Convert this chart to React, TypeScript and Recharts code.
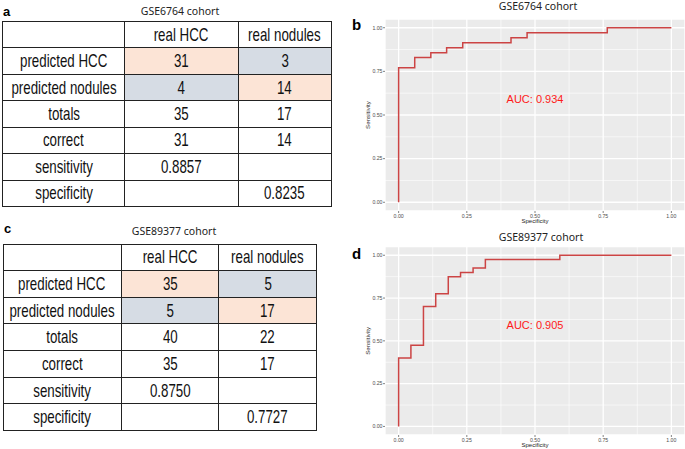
import { CartesianGrid, Line, LineChart, ReferenceDot, ReferenceLine, XAxis, YAxis } from "recharts";

// confusion tables
const colHeaders = ["real HCC", "real nodules"];
const rowLabels = ["predicted HCC", "predicted nodules", "totals", "correct", "sensitivity", "specificity"];
const tableA = [
  ["31", "3"],
  ["4", "14"],
  ["35", "17"],
  ["31", "14"],
  ["0.8857", ""],
  ["", "0.8235"],
];
const tableC = [
  ["35", "5"],
  ["5", "17"],
  ["40", "22"],
  ["35", "17"],
  ["0.8750", ""],
  ["", "0.7727"],
];

// ROC curves (x = 1 - specificity, y = sensitivity)
const fprB = [0, 0, 0.059, 0.118, 0.176, 0.235, 0.412, 0.471, 0.765, 1];
const tprB = [0, 0.771, 0.829, 0.857, 0.886, 0.914, 0.943, 0.971, 1, 1];
const fprD = [0, 0, 0.045, 0.091, 0.136, 0.182, 0.227, 0.273, 0.318, 0.591, 1];
const tprD = [0, 0.4, 0.475, 0.7, 0.775, 0.875, 0.9, 0.925, 0.975, 1, 1];

const majorTicks = [0, 0.25, 0.5, 0.75, 1];
const minorTicks = [0.125, 0.375, 0.625, 0.875];

const PEACH = "#FCE4D6";
const BLUE = "#D6DCE4";
const cellFill = [
  [PEACH, BLUE],
  [BLUE, PEACH],
];

const sans = "'Liberation Sans', Arial, sans-serif";

type TableProps = {
  left: number;
  top: number;
  widths: number[];
  rowH: number;
  values: string[][];
};

function ConfusionTable({ left, top, widths, rowH, values }: TableProps) {
  const border = "1.6px solid #222";
  const rows = [["", ...colHeaders], ...rowLabels.map((r, i) => [r, ...values[i]])];
  return (
    <div
      style={{
        position: "absolute",
        left,
        top,
        display: "grid",
        gridTemplateColumns: widths.map((w) => `${w}px`).join(" "),
        gridAutoRows: `${rowH}px`,
        borderTop: border,
        borderLeft: border,
        fontFamily: sans,
        fontSize: 18.5,
        color: "#111",
      }}
    >
      {rows.map((row, ri) =>
        row.map((txt, ci) => (
          <div
            key={`${ri}-${ci}`}
            style={{
              boxSizing: "border-box",
              borderRight: border,
              borderBottom: border,
              display: "flex",
              alignItems: "center",
              justifyContent: "center",
              whiteSpace: "nowrap",
              overflow: "visible",
              background: ri >= 1 && ri <= 2 && ci >= 1 ? cellFill[ri - 1][ci - 1] : "#fff",
            }}
          >
            <span style={{ display: "inline-block", transform: "scaleX(0.72)", transformOrigin: "center" }}>{txt}</span>
          </div>
        ))
      )}
    </div>
  );
}

type RocProps = {
  left: number;
  top: number;
  height: number;
  marginTop: number;
  fpr: number[];
  tpr: number[];
  auc: string;
};

function Roc({ left, top, height, marginTop, fpr, tpr, auc }: RocProps) {
  const data = fpr.map((x, i) => ({ fpr: x, tpr: tpr[i] }));
  const tick = { fontSize: 5.2, fill: "#4D4D4D", fontFamily: sans };
  return (
    <div style={{ position: "absolute", left, top }}>
      <LineChart width={340} height={height} data={data} margin={{ top: marginTop, right: 0, bottom: 0, left: 0 }}>
        <CartesianGrid fill="#EBEBEB" fillOpacity={1} stroke="#ffffff" strokeWidth={1.3} />
        {minorTicks.map((v) => (
          <ReferenceLine key={`x${v}`} x={v} stroke="#ffffff" strokeWidth={0.6} />
        ))}
        {minorTicks.map((v) => (
          <ReferenceLine key={`y${v}`} y={v} stroke="#ffffff" strokeWidth={0.6} />
        ))}
        <XAxis
          dataKey="fpr"
          type="number"
          domain={[-0.05, 1.05]}
          ticks={majorTicks}
          tickFormatter={(v: number) => v.toFixed(2)}
          axisLine={false}
          tickLine={{ stroke: "#333", strokeWidth: 0.6 }}
          tickSize={2}
          tickMargin={1}
          tick={tick}
          height={14}
          label={{ value: "Specificity", position: "insideBottom", offset: 2.5, fontSize: 6, fill: "#222", fontFamily: sans }}
        />
        <YAxis
          type="number"
          domain={[-0.05, 1.05]}
          ticks={majorTicks}
          tickFormatter={(v: number) => v.toFixed(2)}
          axisLine={false}
          tickLine={{ stroke: "#333", strokeWidth: 0.6 }}
          tickSize={2}
          tickMargin={0.5}
          tick={tick}
          width={40}
          label={{
            value: "Sensitivity",
            angle: -90,
            position: "insideLeft",
            offset: 23,
            fontSize: 6.2,
            fill: "#222",
            fontFamily: sans,
            style: { textAnchor: "middle" },
          }}
        />
        <Line
          type="stepAfter"
          dataKey="tpr"
          stroke="#cc4444"
          strokeWidth={1.5}
          dot={false}
          isAnimationActive={false}
        />
        <ReferenceDot
          x={0.5}
          y={0.59}
          r={1}
          fill="none"
          stroke="none"
          label={{ value: auc, position: "center", fill: "#ff1a1a", fontSize: 11, fontFamily: sans }}
        />
      </LineChart>
    </div>
  );
}

const titleStyle = (cx: number, cy: number) => ({
  position: "absolute" as const,
  left: cx - 60,
  top: cy - 6,
  width: 120,
  height: 12,
  lineHeight: "12px",
  textAlign: "center" as const,
  fontFamily: "'Noto Sans', 'Open Sans', sans-serif",
  fontSize: 10.5,
  color: "#222",
});

const letterStyle = (x: number, y: number, size: number) => ({
  position: "absolute" as const,
  left: x,
  top: y,
  fontFamily: sans,
  fontWeight: 700,
  fontSize: size,
  lineHeight: 1,
  color: "#000",
});

export default function App() {
  return (
    <div style={{ position: "absolute", left: 0, top: 0, width: 685, height: 449, background: "#fff", overflow: "hidden" }}>
      <div style={letterStyle(3, 5, 13)}>a</div>
      <div style={titleStyle(180, 11)}>GSE6764 cohort</div>
      <ConfusionTable left={2} top={21} widths={[122.3, 113.3, 93.3]} rowH={26.43} values={tableA} />

      <div style={letterStyle(4, 222, 13)}>c</div>
      <div style={titleStyle(174, 231)}>GSE89377 cohort</div>
      <ConfusionTable left={2.5} top={243.5} widths={[118.3, 97.3, 98.3]} rowH={26.67} values={tableC} />

      <div style={letterStyle(352, 17, 15)}>b</div>
      <div style={titleStyle(538, 6)}>GSE6764 cohort</div>
      <Roc left={345} top={0} height={225} marginTop={19} fpr={fprB} tpr={tprB} auc="AUC: 0.934" />

      <div style={letterStyle(352, 246, 15)}>d</div>
      <div style={titleStyle(541, 237)}>GSE89377 cohort</div>
      <Roc left={345} top={225} height={224} marginTop={21.7} fpr={fprD} tpr={tprD} auc="AUC: 0.905" />
    </div>
  );
}
